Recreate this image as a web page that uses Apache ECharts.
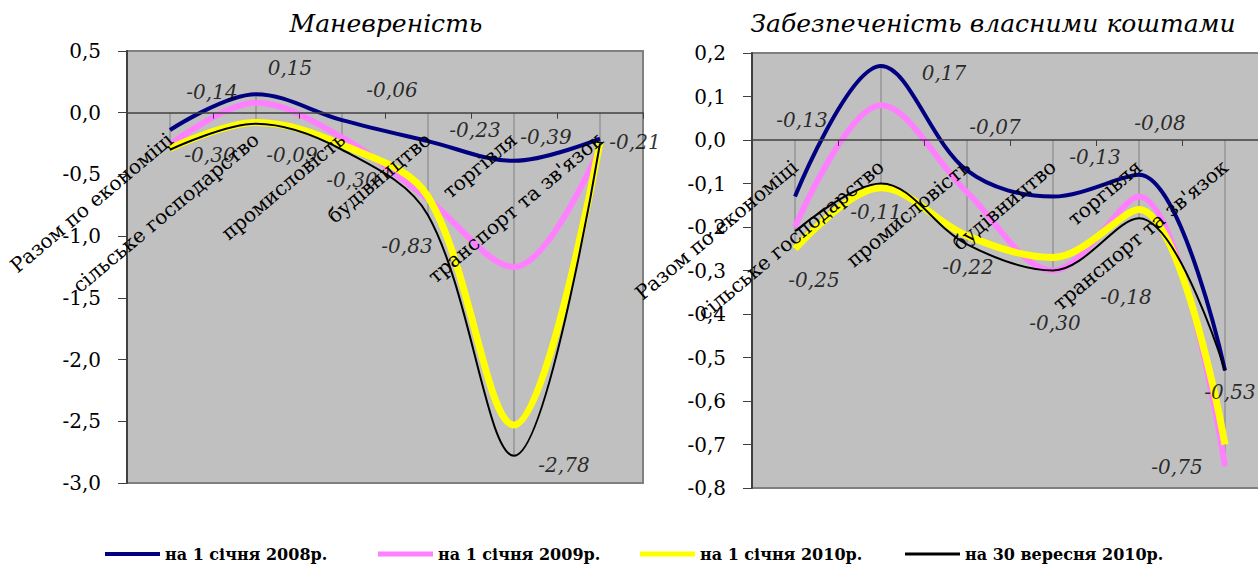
<!DOCTYPE html>
<html>
<head>
<meta charset="utf-8">
<script src="https://cdn.jsdelivr.net/npm/echarts@6/dist/echarts.min.js"></script>
<style>
  html, body { margin: 0; background: #fff; }
  #chart { width: 1258px; height: 565px; }
</style>
</head>
<body>
<div id="chart"></div>
<script>
const categories = ['Разом по економіці', 'сільське господарство', 'промисловість', 'будівництво', 'торгівля', "транспорт та зв'язок"];
const seriesNames = ['на 1 січня 2008р.', 'на 1 січня 2009р.', 'на 1 січня 2010р.', 'на 30 вересня 2010р.'];

// Маневреність
const man2008 = [-0.14, 0.15, -0.06, -0.23, -0.39, -0.21];
const man2009 = [-0.26, 0.08, -0.20, -0.70, -1.25, -0.28];
const man2010 = [-0.29, -0.08, -0.26, -0.68, -2.53, -0.24];
const manSep2010 = [-0.30, -0.09, -0.30, -0.83, -2.78, -0.25];
const manTicks = [0.5, 0.0, -0.5, -1.0, -1.5, -2.0, -2.5, -3.0];

// Забезпеченість власними коштами
const zab2008 = [-0.13, 0.17, -0.07, -0.13, -0.08, -0.53];
const zab2009 = [-0.20, 0.08, -0.12, -0.30, -0.13, -0.75];
const zab2010 = [-0.25, -0.11, -0.22, -0.27, -0.16, -0.70];
const zabSep2010 = [-0.21, -0.10, -0.24, -0.30, -0.18, -0.53];
const zabTicks = [0.2, 0.1, 0.0, -0.1, -0.2, -0.3, -0.4, -0.5, -0.6, -0.7, -0.8];

// which point gets a value label (s = series, i = category) and where the label sits
const manLabels = [
  { s: 0, i: 0, dx: 42, dy: -38 }, { s: 0, i: 1, dx: 34, dy: -26 }, { s: 0, i: 2, dx: 50, dy: -30 },
  { s: 0, i: 3, dx: 47, dy: -11 }, { s: 0, i: 4, dx: 32, dy: -24 }, { s: 0, i: 5, dx: 35, dy: 3 },
  { s: 3, i: 0, dx: 40, dy: 5 }, { s: 3, i: 1, dx: 36, dy: 31 }, { s: 3, i: 2, dx: 10, dy: 30 },
  { s: 3, i: 3, dx: -21, dy: 31 }, { s: 3, i: 4, dx: 50, dy: 9 }
];
const zabLabels = [
  { s: 0, i: 0, dx: 7, dy: -77 }, { s: 0, i: 1, dx: 63, dy: 7 }, { s: 0, i: 2, dx: 28, dy: -43 },
  { s: 0, i: 3, dx: 42, dy: -40 }, { s: 0, i: 4, dx: 21, dy: -52 }, { s: 0, i: 5, dx: 5, dy: 21 },
  { s: 2, i: 0, dx: 19, dy: 31 }, { s: 2, i: 1, dx: -5, dy: 24 }, { s: 2, i: 2, dx: 1, dy: 31 },
  { s: 3, i: 3, dx: 2, dy: 52 }, { s: 3, i: 4, dx: -13, dy: 79 }, { s: 1, i: 5, dx: -48, dy: 1 }
];

const colors = ['#000080', '#ff80ff', '#ffff00', '#000000'];
const widths = [4, 6, 7, 2];
const FONT = 'DejaVu Serif';

const grids = [
  { left: 127, top: 51, width: 516, height: 432 },
  { left: 752, top: 53, width: 516, height: 435 }
];

function fmt(v, d) {
  if (Math.abs(v) < 1e-9) v = 0;
  return v.toFixed(d).replace('.', ',');
}

function buildSeries(gi, data, labels) {
  const out = [];
  // drop lines from each point to the category axis
  const up = categories.map((_, i) => Math.max(0, ...data.map(s => s[i])));
  const down = categories.map((_, i) => Math.min(0, ...data.map(s => s[i])));
  [up, down].forEach(d => out.push({
    type: 'bar', xAxisIndex: gi, yAxisIndex: gi, stack: 'drop' + gi, data: d,
    barWidth: 1, itemStyle: { color: '#808080' }, z: 1, silent: true
  }));
  data.forEach((vals, k) => out.push({
    type: 'line', name: seriesNames[k], xAxisIndex: gi, yAxisIndex: gi, data: vals,
    smooth: 0.35, symbol: 'none', color: colors[k],
    lineStyle: { width: widths[k], color: colors[k] }, z: 2, silent: true
  }));
  out.push({
    type: 'scatter', xAxisIndex: gi, yAxisIndex: gi, symbolSize: 1, z: 5, silent: true,
    itemStyle: { color: 'rgba(0,0,0,0)' },
    data: labels.map(l => ({ value: [l.i, data[l.s][l.i]], label: { offset: [l.dx, l.dy] } })),
    label: {
      show: true, position: 'inside', formatter: p => fmt(p.value[1], 2),
      fontFamily: FONT, fontStyle: 'italic', fontSize: 20, color: '#000'
    }
  });
  return out;
}

// the category axis crosses the value axis at 0
function xAxisFor(gi, ticks) {
  const min = Math.min(...ticks), max = Math.max(...ticks);
  return {
    type: 'category', gridIndex: gi, data: categories, boundaryGap: true, z: 3,
    offset: -grids[gi].height * (0 - min) / (max - min),
    axisLine: { onZero: false, lineStyle: { color: '#404040', width: 1.5 } },
    axisTick: { show: true, length: 6, lineStyle: { color: '#404040' } },
    splitLine: { show: false },
    axisLabel: {
      interval: 0, rotate: 40, margin: 24, hideOverlap: false,
      fontFamily: FONT, fontSize: 20, color: '#000'
    }
  };
}

function yAxisFor(gi, ticks) {
  return {
    type: 'value', gridIndex: gi,
    min: Math.min(...ticks), max: Math.max(...ticks),
    interval: Math.abs(ticks[0] - ticks[1]),
    axisLine: { show: true, lineStyle: { color: '#404040', width: 2 } },
    axisTick: { show: true, length: 9, lineStyle: { color: '#404040' } },
    splitLine: { show: false },
    axisLabel: { margin: 26, fontFamily: FONT, fontSize: 20, color: '#000', formatter: v => fmt(v, 1) }
  };
}

const legendLeft = [100, 373, 635, 900];
const legendIconH = [4, 5, 5, 3];

const option = {
  animation: false,
  backgroundColor: '#fff',
  title: [
    { text: 'Маневреність', left: 381, top: 6, textAlign: 'center',
      textStyle: { fontFamily: FONT, fontStyle: 'italic', fontWeight: 'normal', fontSize: 25, color: '#000' } },
    { text: 'Забезпеченість власними коштами', left: 988, top: 6, textAlign: 'center',
      textStyle: { fontFamily: FONT, fontStyle: 'italic', fontWeight: 'normal', fontSize: 25, color: '#000' } }
  ],
  legend: seriesNames.map((n, k) => ({
    data: [n], left: legendLeft[k], top: 541, icon: 'rect',
    itemWidth: 55, itemHeight: legendIconH[k], itemGap: 0, selectedMode: false,
    textStyle: { fontFamily: FONT, fontSize: 16, fontWeight: 'bold', color: '#000' }
  })),
  grid: grids.map(g => Object.assign({
    show: true, outerBoundsMode: 'none', containLabel: false,
    backgroundColor: '#c0c0c0', borderColor: '#808080', borderWidth: 2
  }, g)),
  xAxis: [xAxisFor(0, manTicks), xAxisFor(1, zabTicks)],
  yAxis: [yAxisFor(0, manTicks), yAxisFor(1, zabTicks)],
  series: [
    ...buildSeries(0, [man2008, man2009, man2010, manSep2010], manLabels),
    ...buildSeries(1, [zab2008, zab2009, zab2010, zabSep2010], zabLabels)
  ]
};

const myChart = echarts.init(document.getElementById('chart'), null, { renderer: 'svg' });
myChart.setOption(option);
window.addEventListener('resize', () => myChart.resize());
</script>
</body>
</html>
